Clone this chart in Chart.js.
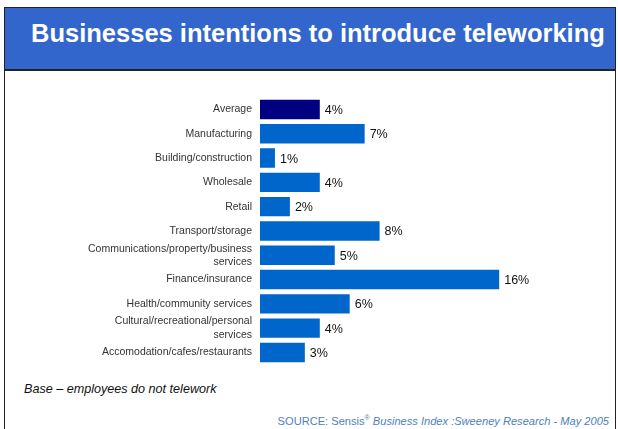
<!DOCTYPE html>
<html>
<head>
<meta charset="UTF-8">
<title>Businesses intentions to introduce teleworking</title>
<script src="https://cdn.jsdelivr.net/npm/chart.js"></script>
<style>
	body {
		margin: 0;
		background: #fff;
		font-family: "Liberation Sans", Arial, sans-serif;
		width: 618px;
		height: 429px;
		overflow: hidden;
		position: relative;
	}
	#frame {
		position: absolute;
		left: 4px;
		top: 7px;
		width: 610px;
		height: 440px;
		border: 1px solid #222;
	}
	#band {
		position: absolute;
		left: 0;
		top: 0;
		width: 610px;
		height: 61px;
		background: #3366cc;
		border-bottom: 2px solid #222;
	}
	#band h1 {
		margin: 0;
		position: absolute;
		left: 26px;
		top: 11px;
		font-size: 25.5px;
		font-weight: bold;
		color: #fff;
		white-space: nowrap;
	}
	#chartBox {
		position: absolute;
		left: 0;
		top: 90px;
		width: 618px;
		height: 290px;
	}
	#base {
		position: absolute;
		left: 24px;
		top: 382px;
		font-size: 12.6px;
		font-style: italic;
		color: #111;
	}
	#source {
		position: absolute;
		right: 9px;
		top: 414px;
		font-size: 11.1px;
		color: #4f81bd;
		white-space: nowrap;
	}
	#source sup { font-size: 7px; }
</style>
</head>
<body>
<div id="frame">
	<div id="band"><h1>Businesses intentions to introduce teleworking</h1></div>
</div>
<div id="chartBox"><canvas id="myChart" width="618" height="290"></canvas></div>
<div id="base">Base – employees do not telework</div>
<div id="source">SOURCE: Sensis<sup>®</sup> <i>Business Index :Sweeney Research - May 2005</i></div>

<script>
	// industry categories, top to bottom
	const industries = [
		'Average',
		'Manufacturing',
		'Building/construction',
		'Wholesale',
		'Retail',
		'Transport/storage',
		['Communications/property/business', 'services'],
		'Finance/insurance',
		'Health/community services',
		['Cultural/recreational/personal', 'services'],
		'Accomodation/cafes/restaurants'
	];
	// share of businesses intending to introduce teleworking (%)
	const intentions = [4, 7, 1, 4, 2, 8, 5, 16, 6, 4, 3];

	const barColors = industries.map((c, i) => i === 0 ? '#000080' : '#0066cc');

	// writes the value next to the end of each bar
	const valueLabels = {
		id: 'valueLabels',
		afterDatasetsDraw: (chart) => {
			const {ctx} = chart;
			const meta = chart.getDatasetMeta(0);
			ctx.save();
			ctx.font = '12.5px "Liberation Sans", Arial, sans-serif';
			ctx.fillStyle = '#111';
			ctx.textAlign = 'left';
			ctx.textBaseline = 'middle';
			meta.data.forEach((bar, i) => {
				ctx.fillText(intentions[i] + '%', bar.x + 5, bar.y + 1);
			});
			ctx.restore();
		}
	};

	const ctx = document.getElementById('myChart').getContext('2d');
	const chart = new Chart(ctx, {
		type: 'bar',
		data: {
			labels: industries,
			datasets: [{
				data: intentions,
				backgroundColor: barColors,
				borderWidth: 0,
				barPercentage: 0.8,
				categoryPercentage: 1
			}]
		},
		options: {
			indexAxis: 'y',
			responsive: false,
			animation: false,
			layout: {
				padding: {left: 0, right: 59, top: 7.3, bottom: 15.4}
			},
			scales: {
				x: {
					display: false,
					min: 0,
					max: 20
				},
				y: {
					grid: {display: false, drawTicks: false},
					border: {display: false},
					ticks: {
						autoSkip: false,
						color: '#333',
						padding: 8,
						font: {family: '"Liberation Sans", Arial, sans-serif', size: 10.5, lineHeight: 1.25}
					},
					afterFit: (scale) => {
						scale.width = 260;
						// let the layout padding alone decide where the rows sit
						scale.paddingTop = 0;
						scale.paddingBottom = 0;
					}
				}
			},
			plugins: {
				legend: {display: false},
				tooltip: {enabled: false}
			}
		},
		plugins: [valueLabels]
	});
</script>
</body>
</html>
